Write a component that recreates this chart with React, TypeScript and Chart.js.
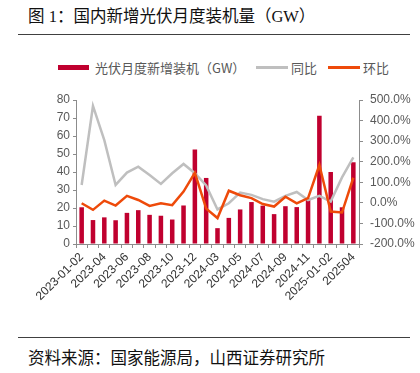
import React, { useEffect, useRef } from "react";
import { Chart, registerables } from "chart.js";

Chart.register(...registerables);

const categories = [
  "2023-01-02", "2023-03", "2023-04", "2023-05", "2023-06", "2023-07", "2023-08",
  "2023-09", "2023-10", "2023-11", "2023-12", "2024-01-02", "2024-03", "2024-04",
  "2024-05", "2024-06", "2024-07", "2024-08", "2024-09", "2024-10", "2024-11",
  "2024-12", "2025-01-02", "2025-03", "202504",
];

const installedGW = [
  20.4, 13.3, 14.8, 13.2, 17.3, 18.8, 16.2, 15.7, 13.6, 21.4, 52.5, 36.7, 8.8,
  14.5, 19.2, 23.3, 21.3, 16.6, 21.0, 20.5, 24.7, 71.2, 40.0, 20.4, 45.4,
];

const yoyPct = [
  87, 471, 305, 87, 147, 176, 135, 92, 144, 189, 144, 85, -32, -2, 50, 39, 18,
  6, 34, 53, 14, 34, 6, 124, 221,
];

const momPct = [
  -2, -34, 11, -13, 34, 14, -15, -2, -11, 55, 146, -28, -74, 59, 37, 23, -6,
  -18, 30, -2, 23, 184, -42, -47, 122,
];

const leftTicks = { min: 0, max: 80, step: 10 };
const rightTicks = { min: -200, max: 500, step: 100 };

const BAR = "#C0002F";
const GRAY = "#BFBFBF";
const ORANGE = "#EE4A0A";
const AXIS = "#8C8C8C";
const TXT = "#595959";

export default function App() {
  const ref = useRef<HTMLCanvasElement>(null);
  useEffect(() => {
    if (!ref.current) return;
    const tickFont = { family: "'Liberation Sans', Arial, sans-serif", size: 12 };
    const chart = new Chart(ref.current, {
      type: "bar",
      data: {
        labels: categories,
        datasets: [
          {
            type: "line",
            label: "环比",
            data: momPct,
            yAxisID: "y1",
            borderColor: ORANGE,
            borderWidth: 2.5,
            pointRadius: 0,
            tension: 0,
            order: 0,
          },
          {
            type: "line",
            label: "同比",
            data: yoyPct,
            yAxisID: "y1",
            borderColor: GRAY,
            borderWidth: 2.5,
            pointRadius: 0,
            tension: 0,
            order: 1,
          },
          {
            type: "bar",
            label: "光伏月度新增装机（GW）",
            data: installedGW,
            yAxisID: "y",
            backgroundColor: BAR,
            barPercentage: 0.4,
            categoryPercentage: 1,
            order: 2,
          },
        ],
      },
      options: {
        responsive: false,
        animation: false,
        layout: { padding: { top: 20, left: 0, right: 0, bottom: 0 } },
        plugins: { legend: { display: false }, tooltip: { enabled: false } },
        scales: {
          x: {
            offset: true,
            grid: {
              offset: true,
              drawOnChartArea: false,
              drawTicks: true,
              tickLength: 4,
              color: AXIS,
            },
            border: { color: AXIS },
            ticks: {
              autoSkip: false,
              maxRotation: 45,
              minRotation: 45,
              padding: 2,
              color: "#333333",
              font: tickFont,
              callback: (_v: any, i: number) => (i % 2 === 0 ? categories[i] : ""),
            },
            afterFit: (s: any) => {
              s.height = 91;
            },
          },
          y: {
            position: "left",
            min: leftTicks.min,
            max: leftTicks.max,
            grid: { drawOnChartArea: false, tickLength: 3, color: AXIS },
            border: { color: AXIS },
            ticks: { stepSize: leftTicks.step, color: TXT, font: tickFont, padding: 3 },
            afterFit: (s: any) => {
              s.width = 76;
            },
          },
          y1: {
            position: "right",
            min: rightTicks.min,
            max: rightTicks.max,
            grid: { drawOnChartArea: false, tickLength: 4, color: AXIS },
            border: { color: AXIS },
            ticks: {
              stepSize: rightTicks.step,
              color: TXT,
              font: tickFont,
              padding: 7,
              callback: (v: any) => Number(v).toFixed(1) + "%",
            },
            afterFit: (s: any) => {
              s.width = 61;
            },
          },
        },
      },
    });
    return () => chart.destroy();
  }, []);

  const cjk = "'Noto Sans CJK SC', sans-serif";
  return (
    <div style={{ position: "absolute", left: 0, top: 0, width: 420, height: 373, overflow: "hidden", background: "#fff" }}>
      <div
        style={{
          position: "absolute",
          left: 28,
          top: 6,
          fontSize: 16.5,
          lineHeight: "22px",
          fontFamily: "'Liberation Serif', 'Noto Sans CJK SC', serif",
          color: "#111",
          whiteSpace: "nowrap",
        }}
      >
        图 1：国内新增光伏月度装机量（GW）
      </div>
      <div style={{ position: "absolute", left: 18, top: 34, width: 392, height: 1, background: "#404040" }} />
      <div
        style={{
          position: "absolute",
          left: 0,
          top: 58,
          width: 420,
          height: 20,
          fontFamily: cjk,
          fontSize: 13,
          color: TXT,
          whiteSpace: "nowrap",
        }}
      >
        <div style={{ position: "absolute", left: 58, top: 7, width: 31, height: 5, background: BAR }} />
        <div style={{ position: "absolute", left: 95, top: 0, lineHeight: "19px" }}>光伏月度新增装机（GW）</div>
        <div style={{ position: "absolute", left: 256, top: 8, width: 32, height: 3, background: GRAY }} />
        <div style={{ position: "absolute", left: 291, top: 0, lineHeight: "19px" }}>同比</div>
        <div style={{ position: "absolute", left: 328, top: 8, width: 32, height: 3, background: ORANGE }} />
        <div style={{ position: "absolute", left: 363, top: 0, lineHeight: "19px" }}>环比</div>
      </div>
      <canvas ref={ref} width={420} height={255} style={{ position: "absolute", left: 0, top: 80, width: 420, height: 255 }} />
      <div style={{ position: "absolute", left: 18, top: 337, width: 392, height: 1, background: "#404040" }} />
      <div
        style={{
          position: "absolute",
          left: 28,
          top: 346,
          fontSize: 16.5,
          lineHeight: "22px",
          fontFamily: cjk,
          color: "#111",
          whiteSpace: "nowrap",
        }}
      >
        资料来源：国家能源局，山西证券研究所
      </div>
    </div>
  );
}
